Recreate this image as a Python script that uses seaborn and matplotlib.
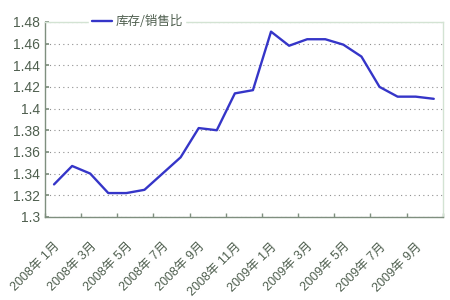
import matplotlib
matplotlib.use("Agg")
import matplotlib.pyplot as plt
import seaborn as sns
import pandas as pd
import numpy as np

months = ["2008年 1月", "2008年 2月", "2008年 3月", "2008年 4月", "2008年 5月", "2008年 6月",
          "2008年 7月", "2008年 8月", "2008年 9月", "2008年 10月", "2008年 11月", "2008年 12月",
          "2009年 1月", "2009年 2月", "2009年 3月", "2009年 4月", "2009年 5月", "2009年 6月",
          "2009年 7月", "2009年 8月", "2009年 9月", "2009年 10月"]
ratio = [1.330, 1.347, 1.340, 1.322, 1.322, 1.325, 1.340, 1.355, 1.382, 1.380, 1.414, 1.417,
         1.471, 1.458, 1.464, 1.464, 1.459, 1.448, 1.420, 1.411, 1.411, 1.409]
series_name = "库存/销售比"
yticks = [1.3, 1.32, 1.34, 1.36, 1.38, 1.4, 1.42, 1.44, 1.46, 1.48]
ytick_labels = ["1.3", "1.32", "1.34", "1.36", "1.38", "1.4", "1.42", "1.44", "1.46", "1.48"]

sns.set_theme(style="white")
plt.rcParams['font.family'] = ['Noto Sans CJK SC', 'DejaVu Sans']

df = pd.DataFrame({"idx": np.arange(len(months)), "ratio": ratio, "series": series_name})

fig = plt.figure(figsize=(4.5, 3.0), dpi=100)
ax = fig.add_axes([0.1, 0.277, 0.884, 0.65])

sns.lineplot(data=df, x="idx", y="ratio", hue="series", palette=["#3535c8"],
             linewidth=1.7, ax=ax)

ax.set_xlim(-0.5, len(months) - 0.5)
ax.set_ylim(1.3, 1.48)
ax.set_yticks(yticks)
ax.set_yticklabels(ytick_labels, family=['Liberation Sans', 'DejaVu Sans'],
                   fontsize=10, color="#4f5f4f")
ax.yaxis.grid(True, linestyle=(0, (1, 3)), color="#909090", linewidth=0.8)
ax.xaxis.grid(False)

major = list(range(0, len(months), 2))
ax.set_xticks(major)
ax.set_xticklabels([months[i] for i in major], rotation=45, ha="right",
                   rotation_mode="anchor", fontsize=9, color="#4f5f4f",
                   family=['Liberation Sans', 'Noto Sans CJK SC'])
ax.tick_params(axis="x", which="major", length=0, pad=17)
ax.set_xticks([-0.5 + 2 * k for k in range(12)], minor=True)
ax.tick_params(axis="x", which="minor", direction="in", length=3, color="#7f8f7f", bottom=True)
ax.tick_params(axis="y", direction="in", length=3, color="#7f8f7f", left=True)

ax.set_xlabel("")
ax.set_ylabel("")

for s in ["left", "bottom"]:
    ax.spines[s].set_color("#7f8f7f")
    ax.spines[s].set_linewidth(1.0)
for s in ["top", "right"]:
    ax.spines[s].set_color("#d3e3d3")
    ax.spines[s].set_linewidth(1.0)

leg = ax.legend(loc="center left", bbox_to_anchor=(0.095, 1.0), frameon=True,
                facecolor="white", edgecolor="white", fontsize=9,
                handlelength=1.6, handletextpad=0.3, borderpad=0.2, framealpha=1)
for t in leg.get_texts():
    t.set_color("#4f5f4f")
leg.set_zorder(10)

fig.savefig("out.png", dpi=100, facecolor="white")
